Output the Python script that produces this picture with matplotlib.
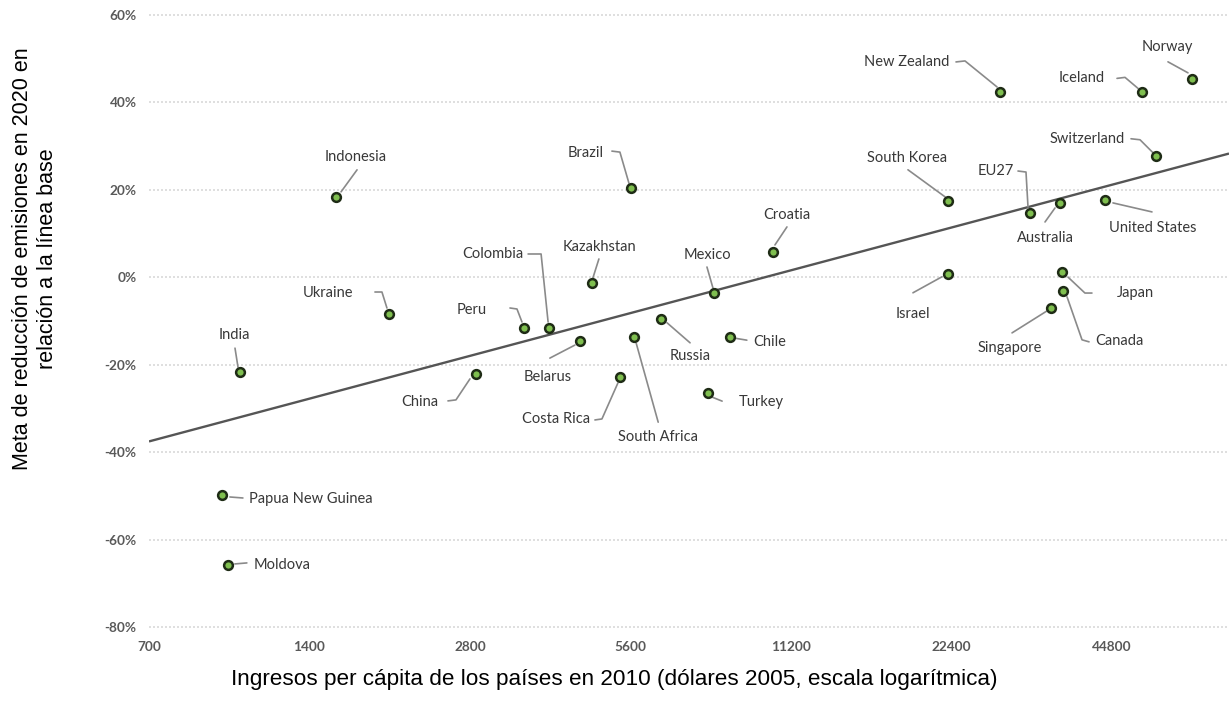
import numpy as np
import matplotlib
matplotlib.use("Agg")
import matplotlib.pyplot as plt

# ---- data: income per capita 2010 (2005 USD) and 2020 emission target vs baseline (%) ----
countries = [
    "Indonesia", "Brazil", "Croatia", "Kazakhstan", "Colombia", "Mexico",
    "Ukraine", "Peru", "India", "China", "Belarus", "Costa Rica",
    "South Africa", "Russia", "Chile", "Turkey", "Israel", "Singapore",
    "Canada", "Japan", "United States", "Australia", "EU27", "South Korea",
    "New Zealand", "Iceland", "Switzerland", "Norway", "Papua New Guinea",
    "Moldova",
]
income = [
    1570, 5610, 10360, 4740, 3940, 8030,
    1973, 3535, 1037, 2873, 4500, 5350,
    5690, 6390, 8600, 7830, 22060, 34430,
    36260, 36090, 43460, 35790, 31440, 22060,
    27620, 51000, 54180, 63280, 959,
    984,
]
target = [
    18.4, 20.4, 5.8, -1.3, -11.6, -3.6,
    -8.4, -11.6, -21.7, -22.1, -14.6, -22.8,
    -13.7, -9.5, -13.7, -26.5, 0.8, -7.0,
    -3.1, 1.2, 17.7, 17.0, 14.7, 17.5,
    42.4, 42.3, 27.8, 45.4, -49.8,
    -65.8,
]
x_ticks = [700, 1400, 2800, 5600, 11200, 22400, 44800]
y_ticks = [-80, -60, -40, -20, 0, 20, 40, 60]

# ---- label placement (pixel offsets from the marker, y pointing down) ----
# text centre offset, then leader-line vertices
label_layout = {
    "Indonesia":        ((20, -40),  [(21, -27), (5, -5)]),
    "Brazil":           ((-45, -35), [(-19, -37), (-11, -36), (-2, -5)]),
    "Croatia":          ((14, -37),  [(14, -25), (2, -7)]),
    "Kazakhstan":       ((8, -36),   [(7, -24), (1, -5)]),
    "Colombia":         ((-56, -74), [(-21, -74), (-8, -74), (-1, -6)]),
    "Mexico":           ((-7, -38),  [(-7, -26), (-1, -5)]),
    "Ukraine":          ((-61, -21), [(-14, -22), (-7, -22), (-2, -6)]),
    "Peru":             ((-52, -18), [(-14, -20), (-7, -19), (-2, -6)]),
    "India":            ((-6, -37),  [(-5, -24), (-2, -5)]),
    "China":            ((-56, 28),  [(-28, 27), (-20, 26), (-6, 5)]),
    "Belarus":          ((-32, 36),  [(-30, 17), (-5, 4)]),
    "Costa Rica":       ((-64, 42),  [(-25, 43), (-18, 42), (-2, 6)]),
    "South Africa":     ((24, 100),  [(24, 85), (2, 6)]),
    "Russia":           ((29, 37),   [(29, 24), (6, 4)]),
    "Chile":            ((40, 5),    [(5, 1), (17, 3)]),
    "Turkey":           ((53, 9),    [(4, 4), (14, 8)]),
    "Israel":           ((-35, 40),  [(-35, 19), (-6, 3)]),
    "Singapore":        ((-41, 40),  [(-39, 25), (-4, 3)]),
    "Canada":           ((56, 50),   [(26, 51), (19, 49), (4, 6)]),
    "Japan":            ((73, 21),   [(30, 21), (23, 21), (6, 5)]),
    "United States":    ((48, 28),   [(8, 3), (47, 12)]),
    "Australia":        ((-15, 35),  [(-15, 19), (-5, 5)]),
    "EU27":             ((-34, -42), [(-12, -42), (-4, -41), (-2, -6)]),
    "South Korea":      ((-41, -43), [(-40, -31), (-3, -4)]),
    "New Zealand":      ((-93, -30), [(-44, -30), (-35, -31), (-3, -5)]),
    "Iceland":          ((-60, -14), [(-25, -14), (-17, -15), (-4, -4)]),
    "Switzerland":      ((-69, -17), [(-25, -17), (-16, -16), (-3, -3)]),
    "Norway":           ((-25, -32), [(-24, -17), (-4, -6)]),
    "Papua New Guinea": ((89, 4),    [(8, 2), (21, 3)]),
    "Moldova":          ((54, 0),    [(7, -1), (19, -2)]),
}

W, H = 1229, 713
fig = plt.figure(figsize=(W / 100, H / 100), dpi=100)
fig.patch.set_facecolor("white")

ax_left, ax_right, ax_top, ax_bottom = 149, 1229, 15, 627
ax = fig.add_axes([ax_left / W, 1 - ax_bottom / H,
                   (ax_right - ax_left) / W, (ax_bottom - ax_top) / H])
ax.set_xscale("log", base=2)
ax.set_xlim(700, 700 * 2 ** ((ax_right - ax_left) / 160.5))
ax.set_ylim(-80, 60)
ax.set_autoscale_on(False)

for s in ax.spines.values():
    s.set_visible(False)

# horizontal dotted grid
for yv in y_ticks:
    ax.axhline(yv, color="#d9d9d9", lw=1.2, ls=(0, (1.2, 1.2)), zorder=0,
               clip_on=False)

ax.set_xticks(x_ticks)
ax.set_xticklabels([str(v) for v in x_ticks])
ax.set_yticks(y_ticks)
ax.set_yticklabels([f"{v}%" for v in y_ticks])
ax.minorticks_off()
ax.tick_params(axis="both", length=0, colors="#595959")
ax.tick_params(axis="x", pad=10)
ax.tick_params(axis="y", pad=9)
for lab in ax.get_xticklabels() + ax.get_yticklabels():
    lab.set_fontfamily("Lato")
    lab.set_fontweight("bold")
    lab.set_fontsize(9.8)
    lab.set_color("#595959")

# least-squares trend on log income
lx = np.log2(np.array(income, dtype=float))
coef = np.polyfit(lx, np.array(target, dtype=float), 1)
xs = np.array(ax.get_xlim())
ax.plot(xs, np.polyval(coef, np.log2(xs)), color="#555555", lw=1.7,
        zorder=2, solid_capstyle="butt")

# leader lines and labels
inv = ax.transData.inverted()
for name, xv, yv in zip(countries, income, target):
    (tdx, tdy), pts = label_layout[name]
    px, py = ax.transData.transform((xv, yv))
    disp = np.array([(px + dx, py - dy) for dx, dy in pts])
    dat = inv.transform(disp)
    ax.plot(dat[:, 0], dat[:, 1], color="#8a8a8a", lw=1.2, zorder=3,
            clip_on=False, solid_capstyle="round", solid_joinstyle="round")
    ax.annotate(name, xy=(xv, yv), xytext=(tdx, -tdy),
                textcoords="offset pixels", ha="center", va="center",
                fontfamily="Lato", fontsize=10.5, color="#383838",
                annotation_clip=False, zorder=4)

ax.plot(income, target, ls="none", marker="o", ms=6.3,
        mfc="#7fbf4f", mec="#1f2c16", mew=1.8, zorder=5, clip_on=False)

# axis titles
fig.text(614 / W, 1 - 680 / H,
         "Ingresos per cápita de los países en 2010 (dólares 2005, escala logarítmica)",
         ha="center", va="center", fontsize=16.2, fontfamily="Liberation Sans",
         color="#000000")
fig.text(35 / W, 1 - 259 / H,
         "Meta de reducción de emisiones en 2020 en\nrelación a la línea base",
         ha="center", va="center", rotation=90, fontsize=15.5,
         fontfamily="Liberation Sans", color="#000000", linespacing=1.3)

fig.savefig("out.png", dpi=100, facecolor="white")
